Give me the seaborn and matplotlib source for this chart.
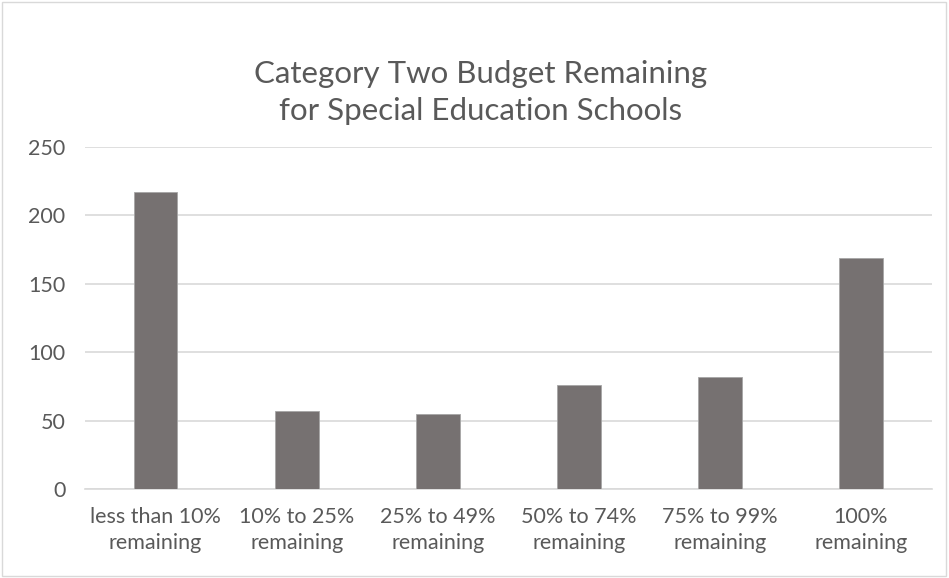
import numpy as np
import pandas as pd
import seaborn as sns
from matplotlib import pyplot as plt
from matplotlib.patches import Rectangle

# chart data
categories = ['less than 10%\nremaining', '10% to 25%\nremaining', '25% to 49%\nremaining',
              '50% to 74%\nremaining', '75% to 99%\nremaining', '100%\nremaining']
schools = [217, 57, 55, 76, 82, 169]
y_ticks = [0, 50, 100, 150, 200, 250]

df = pd.DataFrame({'Category': categories, 'Schools': schools})

sns.set_theme(style='white')
plt.rcParams['font.family'] = ['Lato', 'DejaVu Sans']

fig = plt.figure(figsize=(9.49, 5.78), dpi=100)
ax = fig.add_axes([0.0896, 0.154, 0.892, 0.592])

sns.barplot(data=df, x='Category', y='Schools', color='#767171',
            saturation=1, width=0.31, ax=ax, zorder=3)
for bar in ax.patches:
    bar.set_edgecolor('#a6a6a6')
    bar.set_linewidth(0.6)

ax.set_ylim(0, 250)
ax.set_yticks(y_ticks)
ax.set_xlim(-0.5, len(categories) - 0.5)
ax.yaxis.grid(True, color='#d9d9d9', linewidth=1.2, zorder=0)
ax.set_axisbelow(True)
for side in ['top', 'right', 'left']:
    ax.spines[side].set_visible(False)
ax.spines['bottom'].set_color('#d9d9d9')
ax.spines['bottom'].set_linewidth(1.2)
ax.set_xlabel('')
ax.set_ylabel('')
ax.tick_params(axis='both', length=0, labelsize=15.5, labelcolor='#595959')
ax.tick_params(axis='y', pad=14)
ax.tick_params(axis='x', pad=13)
for lbl in ax.get_xticklabels():
    lbl.set_linespacing(1.4)

fig.text(0.506, 0.840, 'Category Two Budget Remaining\nfor Special Education Schools',
         ha='center', va='center', fontsize=22.5, color='#595959', linespacing=1.35)

# thin chart border
fig.patches.append(Rectangle((0.002, 0.003), 0.995, 0.993, transform=fig.transFigure,
                             fill=False, edgecolor='#d9d9d9', linewidth=1))

fig.savefig('out.png', dpi=100)
